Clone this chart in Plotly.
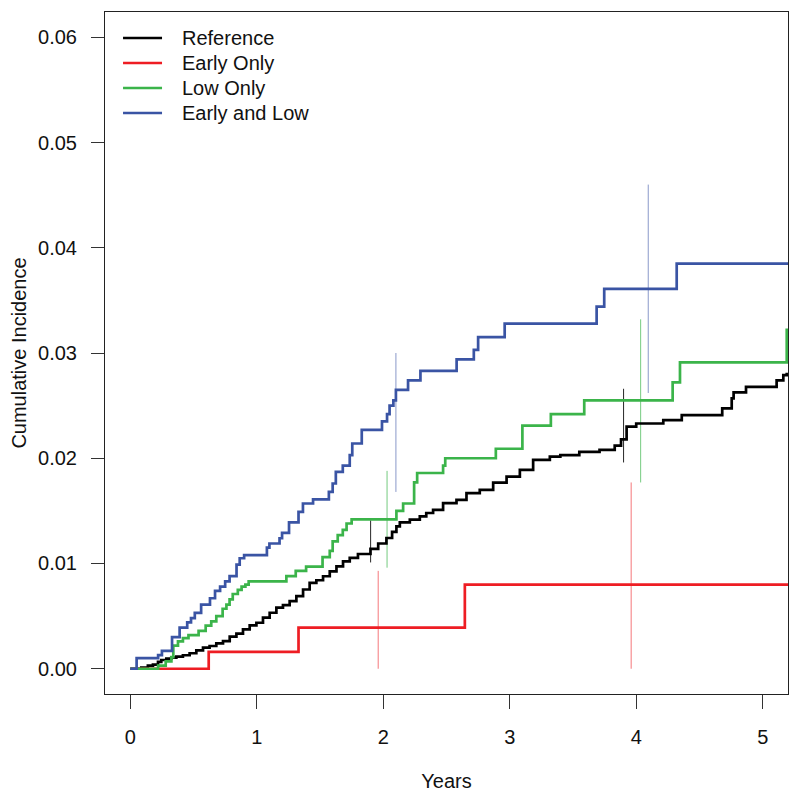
import plotly.graph_objects as go

# ---- data ----
ref_years = [0, 0.087, 0.139, 0.179, 0.219, 0.245, 0.285, 0.324, 0.364, 0.416, 0.469, 0.522,
             0.575, 0.627, 0.680, 0.733, 0.786, 0.839, 0.891, 0.944, 0.997, 1.049, 1.102,
             1.155, 1.207, 1.260, 1.313, 1.366, 1.418, 1.471, 1.524, 1.577, 1.630, 1.682,
             1.735, 1.80, 1.899, 1.96, 2.025, 2.07, 2.104, 2.131, 2.21, 2.289, 2.34, 2.394,
             2.473, 2.579, 2.658, 2.763, 2.869, 2.975, 3.08, 3.185, 3.317, 3.40, 3.55, 3.71,
             3.83, 3.88, 3.924, 4.0, 4.214, 4.36, 4.68, 4.755, 4.77, 4.868, 5.11, 5.163,
             5.19, 5.25]
ref_cuminc = [0, 0.0001, 0.0003, 0.0004, 0.00065, 0.00083, 0.00097, 0.00106, 0.00115,
              0.00128, 0.00147, 0.00175, 0.0020, 0.00216, 0.00241, 0.00263, 0.00305,
              0.00333, 0.00374, 0.00412, 0.00437, 0.00485, 0.00532, 0.0058, 0.00604,
              0.00642, 0.0069, 0.00753, 0.00816, 0.00841, 0.00879, 0.00926, 0.00973,
              0.0102, 0.01053, 0.0109, 0.01138, 0.0119, 0.01242, 0.0130, 0.01352, 0.0139,
              0.01416, 0.01447, 0.0148, 0.0151, 0.01574, 0.01605, 0.01669, 0.0170,
              0.01769, 0.01826, 0.01889, 0.01984, 0.02015, 0.0203, 0.0206, 0.0208,
              0.0212, 0.0218, 0.0230, 0.0233, 0.02363, 0.0241, 0.02473, 0.02568,
              0.02625, 0.02678, 0.0274, 0.02789, 0.0280, 0.0280]

early_years = [0, 0.62, 1.33, 2.645, 5.25]
early_cuminc = [0, 0.0016, 0.0039, 0.0080, 0.0080]

low_years = [0, 0.22, 0.28, 0.325, 0.34, 0.377, 0.416, 0.46, 0.54, 0.596, 0.64, 0.68,
             0.73, 0.76, 0.785, 0.81, 0.85, 0.88, 0.91, 0.936, 1.234, 1.308, 1.39, 1.52,
             1.577, 1.60, 1.64, 1.68, 1.71, 1.75, 2.104, 2.157, 2.244, 2.268, 2.473,
             2.49, 2.89, 3.10, 3.325, 3.589, 4.288, 4.346, 5.19, 5.25]
low_cuminc = [0, 0.0003, 0.0007, 0.0011, 0.0022, 0.0026, 0.0029, 0.0032, 0.0036, 0.0041,
              0.0045, 0.0050, 0.0057, 0.0061, 0.0066, 0.0071, 0.0075, 0.0078, 0.0080,
              0.0083, 0.0088, 0.0093, 0.0097, 0.0106, 0.0112, 0.0121, 0.0127, 0.0132,
              0.0138, 0.0142, 0.0150, 0.0157, 0.0177, 0.0186, 0.0193, 0.0200, 0.0209,
              0.0231, 0.0242, 0.0255, 0.0272, 0.0291, 0.0322, 0.0322]

both_years = [0, 0.05, 0.22, 0.25, 0.33, 0.39, 0.45, 0.48, 0.51, 0.56, 0.63, 0.67, 0.71,
              0.75, 0.785, 0.84, 0.865, 0.90, 1.08, 1.10, 1.18, 1.20, 1.255, 1.33, 1.365,
              1.445, 1.57, 1.60, 1.625, 1.68, 1.735, 1.755, 1.83, 1.99, 2.03, 2.05, 2.08,
              2.10, 2.196, 2.294, 2.58, 2.716, 2.75, 2.96, 3.687, 3.747, 4.32, 5.25]
both_cuminc = [0, 0.0010, 0.0013, 0.0017, 0.0030, 0.0039, 0.0044, 0.0048, 0.0053, 0.0061,
               0.0067, 0.0074, 0.0078, 0.0083, 0.0088, 0.0099, 0.0105, 0.0108, 0.0115,
               0.0119, 0.0124, 0.0129, 0.0139, 0.0149, 0.0157, 0.0161, 0.0168, 0.0176,
               0.0187, 0.0193, 0.0203, 0.0214, 0.0227, 0.0235, 0.0242, 0.0250, 0.0255,
               0.0265, 0.0274, 0.0283, 0.0294, 0.0303, 0.0315, 0.0328, 0.0344, 0.0361,
               0.0385, 0.0385]

# confidence intervals at 2 and 4 years (slightly offset per group)
ci_ref_x = [1.90, 3.90]
ci_ref_lo = [0.0101, 0.0196]
ci_ref_hi = [0.0141, 0.0266]
ci_early_x = [1.96, 3.96]
ci_early_lo = [0.0, 0.0]
ci_early_hi = [0.0093, 0.0177]
ci_low_x = [2.03, 4.035]
ci_low_lo = [0.0096, 0.0177]
ci_low_hi = [0.0188, 0.0332]
ci_both_x = [2.10, 4.095]
ci_both_lo = [0.0168, 0.0262]
ci_both_hi = [0.0300, 0.0460]

names = ["Reference", "Early Only", "Low Only", "Early and Low"]
colors = ["#000000", "#EE1D23", "#3BB44A", "#3A54A4"]
ci_colors = ["rgba(0,0,0,0.85)", "rgba(238,29,35,0.6)", "rgba(59,180,74,0.7)", "rgba(58,84,164,0.6)"]

curves = [(ref_years, ref_cuminc), (early_years, early_cuminc),
          (low_years, low_cuminc), (both_years, both_cuminc)]
cis = [(ci_ref_x, ci_ref_lo, ci_ref_hi), (ci_early_x, ci_early_lo, ci_early_hi),
       (ci_low_x, ci_low_lo, ci_low_hi), (ci_both_x, ci_both_lo, ci_both_hi)]

fig = go.Figure()

for (cx, lo, hi), col in zip(cis, ci_colors):
    xs, ys = [], []
    for x, a, b in zip(cx, lo, hi):
        xs += [x, x, None]
        ys += [a, b, None]
    fig.add_trace(go.Scatter(x=xs, y=ys, mode="lines", line=dict(color=col, width=1),
                             showlegend=False, hoverinfo="skip"))

for (xs, ys), name, col in zip(curves, names, colors):
    fig.add_trace(go.Scatter(x=xs, y=ys, mode="lines", name=name, showlegend=False,
                             line=dict(color=col, width=2.7, shape="hv")))

font_family = "Liberation Sans, Arial, sans-serif"

# legend drawn R-style (top-left, no box), in paper coordinates of the plot area
PLOT_H = 682
leg_top = 1 - 26 / PLOT_H      # centre of first row
leg_step = 25 / PLOT_H         # row spacing
line_x0, line_x1, text_x = 0.0264, 0.0835, 0.1098
shapes, annotations = [], []
for i, (name, col) in enumerate(zip(names, colors)):
    yy = leg_top - i * leg_step
    shapes.append(dict(type="line", xref="paper", yref="paper",
                       x0=line_x0, x1=line_x1, y0=yy, y1=yy,
                       line=dict(color=col, width=2.7)))
    annotations.append(dict(xref="paper", yref="paper", x=text_x, y=yy,
                            xanchor="left", yanchor="middle", text=name,
                            showarrow=False, font=dict(size=20, color="#111111")))

fig.update_layout(
    width=792, height=792,
    margin=dict(l=97, r=12, t=4, b=106),
    paper_bgcolor="white", plot_bgcolor="white",
    font=dict(family=font_family, size=20, color="#111111"),
    showlegend=False,
    shapes=shapes, annotations=annotations,
    xaxis=dict(range=[-0.2, 5.2], tickvals=[0, 1, 2, 3, 4, 5],
               ticks="outside", ticklen=14, tickwidth=1, tickcolor="#333",
               showline=True, linecolor="#222", linewidth=1, mirror=True,
               showgrid=False, zeroline=False, ticklabelstandoff=11,
               title=dict(text="Years", standoff=26, font=dict(size=20))),
    yaxis=dict(range=[-0.0024, 0.0624], tickvals=[0, 0.01, 0.02, 0.03, 0.04, 0.05, 0.06],
               tickformat=".2f",
               ticks="outside", ticklen=13, tickwidth=1, tickcolor="#333",
               showline=True, linecolor="#222", linewidth=1, mirror=True,
               showgrid=False, zeroline=False, ticklabelstandoff=10,
               title=dict(text="Cumulative Incidence", standoff=10, font=dict(size=20))),
)

fig.write_html("out.html")
